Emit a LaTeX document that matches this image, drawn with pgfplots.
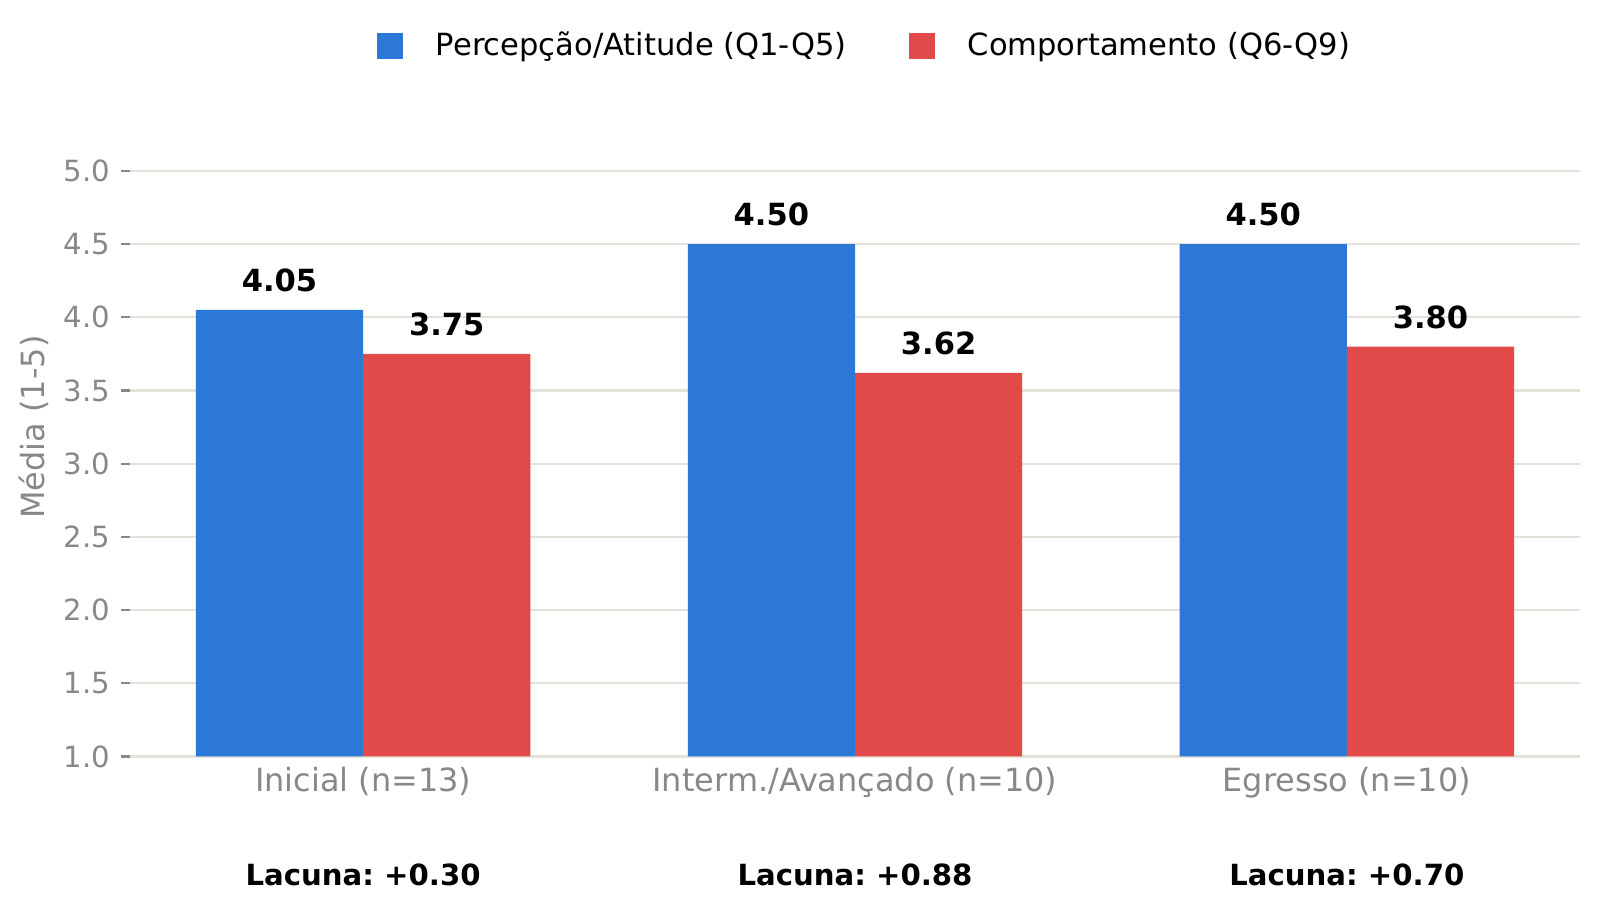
\documentclass[border=0pt]{standalone}
\usepackage{pgfplots}
\pgfplotsset{compat=1.18}
\usepackage{fontspec}
\setmainfont{DejaVu Sans}
\definecolor{cblue}{HTML}{2B78D6}
\definecolor{cred}{HTML}{E24A4A}
\definecolor{cgrid}{HTML}{E2E2DA}
\definecolor{ctick}{HTML}{888888}
\pgfplotstableread{
x  perc  comp
0  4.05  3.75
1  4.50  3.62
2  4.50  3.80
}\datatable
\begin{document}
\frenchspacing
\begin{tikzpicture}
\useasboundingbox (-46.8pt,-55.98pt) rectangle (529.2pt,272.34pt);
\begin{axis}[
  at={(0pt,0pt)}, anchor=south west,
  scale only axis, width=522pt, height=237.2pt,
  xmin=-0.474, xmax=2.474, ymin=1, ymax=5.5,
  axis lines*=left,
  axis line style={draw=none},
  /pgf/number format/assume math mode=true,
  ybar, bar width=0.34,
  ytick={1,1.5,2,2.5,3,3.5,4,4.5,5},
  yticklabel={\pgfmathprintnumber[fixed,fixed zerofill,precision=1]{\tick}},
  yticklabel style={font=\fontsize{10.5}{12}\selectfont, text=ctick, anchor=east, inner sep=0pt, xshift=-3.6pt},
  ytick style={draw=ctick, line width=0.8pt},
  tick align=outside, major tick length=3.4pt,
  ymajorgrids, grid style={draw=cgrid, line width=0.8pt},
  xtick={0,1,2},
  xticklabels={Inicial (n=13), Interm./Avançado (n=10), Egresso (n=10)},
  xticklabel style={font=\fontsize{11.5}{13}\selectfont, text=ctick, anchor=base, inner sep=0pt, yshift=-9.3pt},
  xtick style={draw=none},
  extra x ticks={0,1,2},
  extra x tick labels={Lacuna: +0.30, Lacuna: +0.88, Lacuna: +0.70},
  extra x tick style={xtick style={draw=none}, xticklabel style={font=\bfseries\fontsize{10.5}{12}\selectfont, text=black, yshift=-33.59pt}},
  ylabel={Média (1-5)},
  every axis y label/.style={at={(axis description cs:-0.066,0.5)}, rotate=90, anchor=center, font=\fontsize{11.5}{13}\selectfont, text=ctick},
  nodes near coords={\pgfmathprintnumber[fixed,fixed zerofill,precision=2]{\pgfplotspointmeta}},
  every node near coord/.append style={font=\bfseries\fontsize{11}{13}\selectfont, text=black, anchor=base, inner sep=0pt, yshift=6.6pt},
  legend style={at={(axis description cs:0.506,1.0786)}, anchor=center, draw=none, fill=none,
    inner sep=0pt, font=\fontsize{11}{13}\selectfont, legend columns=2,
    nodes={inner sep=0pt},
    /tikz/every even column/.append style={column sep=22.5pt}},
]
\addplot[fill=cblue, draw=none, bar shift=-0.17,
  legend image code/.code={\fill[cblue] (0pt,-4.78pt) rectangle (9.36pt,4.58pt); \path (21.16pt,0pt);}]
  table[x=x, y=perc] {\datatable};
\addlegendentry{Percepção/Atitude (Q1-Q5)}
\addplot[fill=cred, draw=none, bar shift=0.17,
  legend image code/.code={\fill[cred] (0pt,-4.78pt) rectangle (9.36pt,4.58pt); \path (21.16pt,0pt);}]
  table[x=x, y=comp] {\datatable};
\addlegendentry{Comportamento (Q6-Q9)}
\end{axis}
\end{tikzpicture}
\end{document}
